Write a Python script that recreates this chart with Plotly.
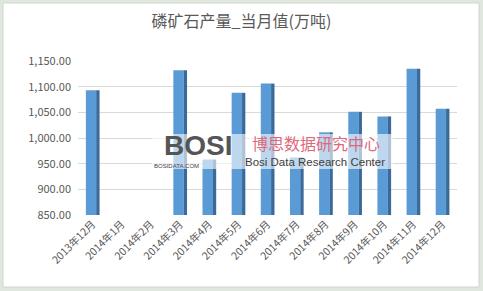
import plotly.graph_objects as go

categories = ["2013年12月", "2014年1月", "2014年2月", "2014年3月", "2014年4月", "2014年5月",
              "2014年6月", "2014年7月", "2014年8月", "2014年9月", "2014年10月", "2014年11月", "2014年12月"]
values = [1093, None, None, 1132, 958, 1088, 1106, 962, 1011, 1051, 1042, 1135, 1057]
y_ticks = [850, 900, 950, 1000, 1050, 1100, 1150]
BASE = 850

W, H = 483, 291
L, R, T, B = 78, 26, 61, 76
pw, ph = W - L - R, H - T - B

def px(x):
    return (x - L) / pw

def py(y):
    return (H - B - y) / ph

heights = [None if v is None else v - BASE for v in values]

fig = go.Figure()
# side face (3D look)
fig.add_trace(go.Bar(x=categories, y=heights, base=BASE, width=0.12, offset=0.12,
                     marker=dict(color="#3B6A98", line=dict(width=0)), showlegend=False,
                     hoverinfo="skip"))
# front face
fig.add_trace(go.Bar(x=categories, y=heights, base=BASE, width=0.36, offset=-0.23,
                     marker=dict(color="#5B9BD5", line=dict(width=0)), showlegend=False,
                     customdata=values, hovertemplate="%{x}: %{customdata}<extra></extra>"))

def ann(text, x, y, size, color, family, bold=False):
    return dict(text=f"<b>{text}</b>" if bold else text, xref="paper", yref="paper",
                x=px(x), y=py(y), xanchor="center", yanchor="middle", showarrow=False,
                font=dict(size=size, color=color, family=family))

fig.update_layout(
    width=W, height=H,
    margin=dict(l=L, r=R, t=T, b=B),
    paper_bgcolor="#dfe7df",
    plot_bgcolor="white",
    barmode="overlay",
    font=dict(family="Noto Sans CJK SC, Liberation Sans, sans-serif", color="#595959", size=11),
    title=dict(text="磷矿石产量_当月值(万吨)", x=0.5, xanchor="center", y=1 - 21 / H, yanchor="middle",
               font=dict(size=16, color="#595959")),
    xaxis=dict(type="category", tickangle=-45, showgrid=False, showline=False, ticks="",
               tickfont=dict(size=10.5, color="#595959"), range=[-0.5, 12.5]),
    yaxis=dict(range=[850, 1150], tickvals=y_ticks, tickformat=",.2f", showgrid=True,
               gridcolor="#d9d9d9", gridwidth=1, zeroline=False, showline=False, ticks="",
               tickfont=dict(size=11, color="#595959"), ticklabelstandoff=6),
    shapes=[
        dict(type="rect", xref="paper", yref="paper", x0=px(3), x1=px(479), y0=py(287), y1=py(3),
             fillcolor="white", line=dict(color="#cfd6cf", width=1), layer="below"),
        dict(type="rect", xref="paper", yref="paper", x0=px(152), x1=px(393), y0=py(169), y1=py(134),
             fillcolor="rgba(255,255,255,0.6)", line=dict(width=0), layer="above"),
    ],
    annotations=[
        ann("BOSI", 198, 145, 28, "#555555", "Liberation Sans, sans-serif", bold=True),
        ann("BOSIDATA.COM", 176, 165.5, 6, "#444444", "Liberation Sans, sans-serif"),
        ann("博思数据研究中心", 316, 143, 16, "#e0687a", "Noto Sans CJK SC"),
        ann("Bosi Data Research Center", 315, 162, 11.5, "#404040", "Liberation Sans Narrow, Liberation Sans"),
    ],
)

fig.write_html("out.html")
